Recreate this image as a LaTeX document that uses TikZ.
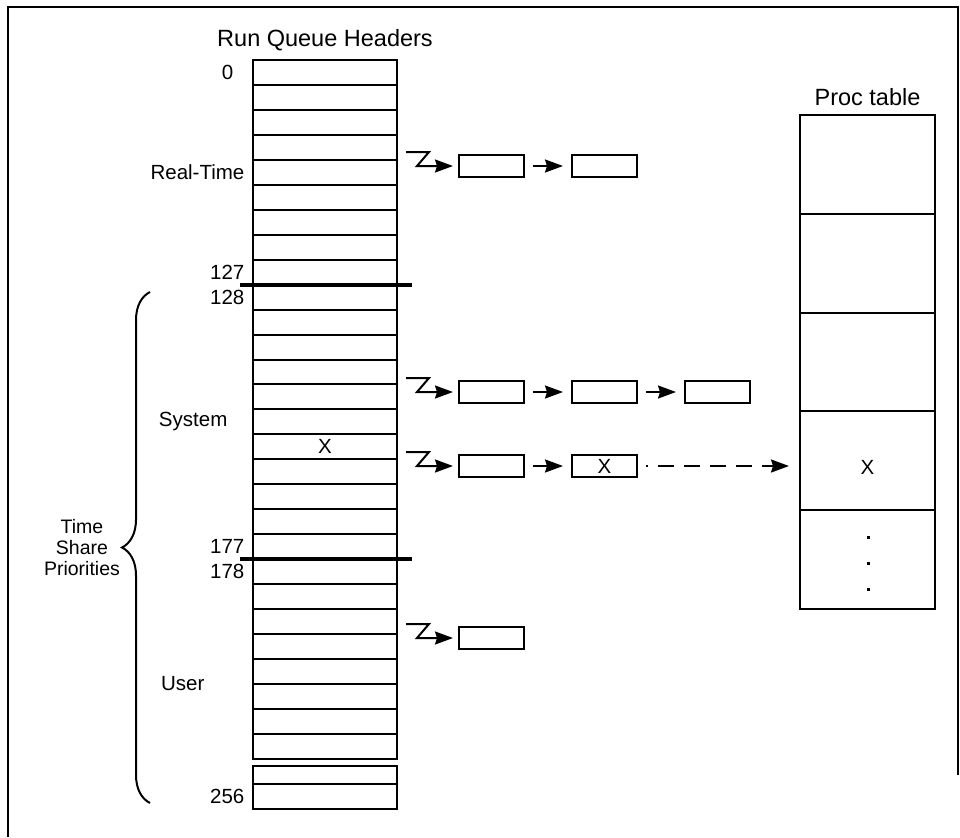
\documentclass[tikz,border=0pt]{standalone}
\usepackage{fontspec}
\setmainfont{Liberation Sans}
\usetikzlibrary{positioning, arrows.meta, calc, decorations.pathreplacing}

\begin{document}
\begin{tikzpicture}[x=0.5pt, y=-0.5pt, line width=1pt,
    font=\fontsize{10.25}{12}\selectfont, >={Stealth[length=9pt, width=6.5pt, inset=1pt]},
    slot/.style={draw, minimum width=72pt, minimum height=12.48pt, inner sep=0pt, outer sep=0pt},
    link/.style={draw, minimum width=32.5pt, minimum height=11pt, inner sep=0pt, outer sep=0pt},
    entry/.style={draw, minimum width=67.5pt, minimum height=49.4pt, inner sep=0pt, outer sep=0pt},
    divider/.style={line width=2pt},
    hop/.style={->, shorten <=4.5pt, shorten >=4.5pt},
    title/.style={font=\fontsize{11.75}{14}\selectfont}]
  \useasboundingbox (0,0) rectangle (960,837);
  \draw (8,837) -- (8,7) -- (958,7) -- (958,775);

  % run queue headers
  \node[title] (rqh) at (325,40) {Run Queue Headers};
  \foreach \i in {0,...,27}
    \node[slot] (r\i) at (325, {72.48+24.96*\i}) {};
  \node[slot, minimum height=9pt] (r28) at (325,775) {};
  \node[slot] (r29) at (325,796.5) {};
  \node (rx) at (r15) {X};
  \draw[divider] ($(r8.south west)+(-13,0)$) -- ($(r8.south east)+(15,0)$);
  \draw[divider] ($(r19.south west)+(-13,0)$) -- ($(r19.south east)+(15,0)$);

  \node[left=6pt of r0] (n0) {0};
  \node[left=0.5pt of r8] (n127) {127};
  \node[left=0.5pt of r9] (n128) {128};
  \node[left=0.5pt of r19] (n177) {177};
  \node[left=0.5pt of r20] (n178) {178};
  \node[left=0.5pt of r29] (n256) {256};
  \node[left=0.5pt of r4] (rt) {Real-Time};
  \node[left=9pt of r14] (sys) {System};
  \node[left=20.5pt of r24.south west] (usr) {User};

  \node[align=center, font=\fontsize{9.75}{10.5}\selectfont] (tsp) at (82,548) {Time\\Share\\Priorities};
  \draw[decorate, decoration={brace, amplitude=14pt}] (150,803) -- (150,292);

  % queues hanging off the headers
  \foreach \q/\y in {rq/166, sa/392, sb/466, uq/638} {
    \node[link] (\q1) at (491.5,\y) {};
    \coordinate (\q0) at (406,{\y-14});
    \draw[->, shorten >=3pt] (\q0) -- ++(23,0) -- ++(-12,14) -- (\q1.west);
  }
  \node[link, right=24pt of rq1] (rq2) {};
  \node[link, right=24pt of sa1] (sa2) {};
  \node[link, right=24pt of sa2] (sa3) {};
  \node[link, right=24pt of sb1] (sb2) {X};
  \draw[hop] (rq1) -- (rq2);
  \draw[hop] (sa1) -- (sa2);
  \draw[hop] (sa2) -- (sa3);
  \draw[hop] (sb1) -- (sb2);

  % proc table
  \node[title] (proc) at (867.5,97) {Proc table};
  \foreach \i in {1,...,5}
    \node[entry] (p\i) at (867.5, {115+98.8*(\i-0.5)}) {};
  \node (px) at (867.5,467) {X};
  \foreach \y in {537,563,589}
    \fill (866.5,{\y-1.5}) rectangle ++(3,3);
  \draw[->, dash pattern=on 8pt off 5pt, dash phase=7pt, shorten <=4.5pt, shorten >=5.5pt]
    (sb2.east) -- (sb2.east -| p4.west);
\end{tikzpicture}
\end{document}
